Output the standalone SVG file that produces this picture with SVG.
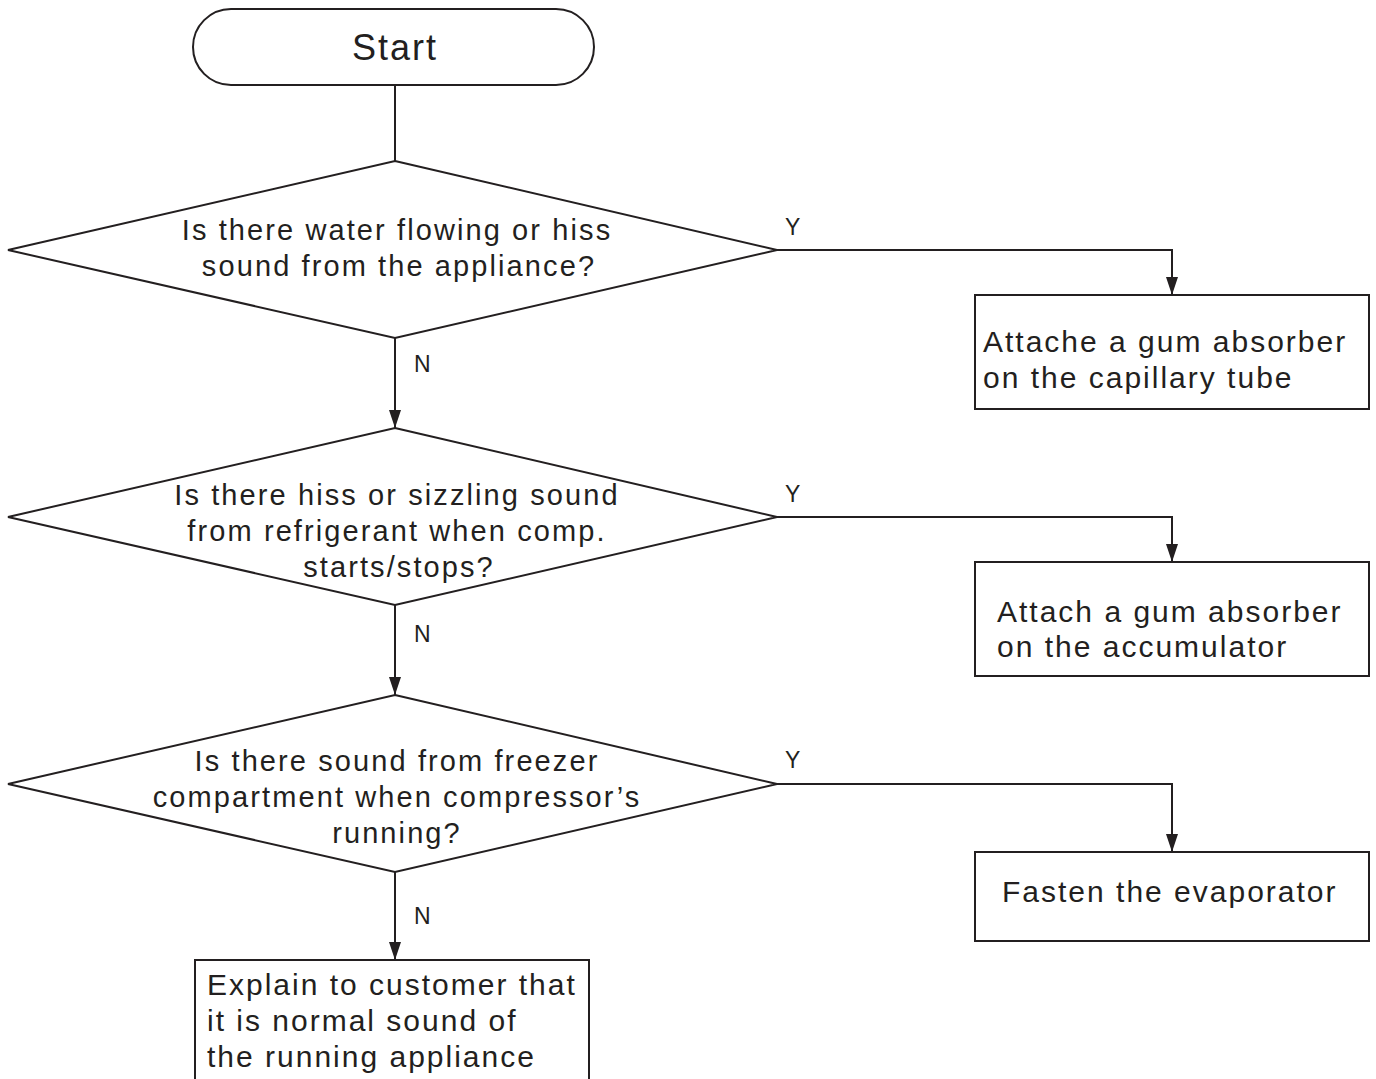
<svg xmlns="http://www.w3.org/2000/svg" width="1376" height="1079" viewBox="0 0 1376 1079">
<defs>
<style>
.shape{fill:#fff;stroke:#231f20;stroke-width:2}
.line{fill:none;stroke:#231f20;stroke-width:2}
.t{font-family:"Liberation Sans",Arial,sans-serif;fill:#231f20}
.q{font-size:29px;letter-spacing:2.1px;text-anchor:middle}
.b{font-size:30px;letter-spacing:2px}
.lbl{font-size:23px}
</style>
<marker id="arr" viewBox="0 0 18 12" refX="18" refY="6" markerWidth="18" markerHeight="12" markerUnits="userSpaceOnUse" orient="auto">
<path d="M0,0 L18,6 L0,12 Z" fill="#231f20"/>
</marker>
</defs>
<rect width="1376" height="1079" fill="#fff"/>
<g id="connectors">
<line class="line" x1="395" y1="85" x2="395" y2="161"/>
<line class="line" x1="395" y1="338" x2="395" y2="428" marker-end="url(#arr)"/>
<line class="line" x1="395" y1="605" x2="395" y2="695" marker-end="url(#arr)"/>
<line class="line" x1="395" y1="872" x2="395" y2="960" marker-end="url(#arr)"/>
<polyline class="line" points="777,250 1172,250 1172,295" marker-end="url(#arr)"/>
<polyline class="line" points="777,517 1172,517 1172,562" marker-end="url(#arr)"/>
<polyline class="line" points="777,784 1172,784 1172,852" marker-end="url(#arr)"/>
<text class="t lbl" x="785" y="235">Y</text>
<text class="t lbl" x="785" y="502">Y</text>
<text class="t lbl" x="785" y="768">Y</text>
<text class="t lbl" x="414" y="372">N</text>
<text class="t lbl" x="414" y="642">N</text>
<text class="t lbl" x="414" y="924">N</text>
</g>
<g id="start">
<rect class="shape" x="193" y="9" width="401" height="76" rx="38" ry="38"/>
<text class="t" x="395" y="60" font-size="36" letter-spacing="2" text-anchor="middle">Start</text>
</g>
<g id="q1">
<polygon class="shape" points="395,161 777,250 395,338 8,250"/>
<text class="t q" x="397" y="240">Is there water flowing or hiss</text>
<text class="t q" x="399" y="276">sound from the appliance?</text>
</g>
<g id="q2">
<polygon class="shape" points="395,428 777,517 395,605 8,517"/>
<text class="t q" x="397" y="505">Is there hiss or sizzling sound</text>
<text class="t q" x="397" y="541">from refrigerant when comp.</text>
<text class="t q" x="399" y="577">starts/stops?</text>
</g>
<g id="q3">
<polygon class="shape" points="395,695 777,784 395,872 8,784"/>
<text class="t q" x="397" y="771">Is there sound from freezer</text>
<text class="t q" x="397" y="807">compartment when compressor’s</text>
<text class="t q" x="397" y="843">running?</text>
</g>
<g id="a1">
<rect class="shape" x="975" y="295" width="394" height="114"/>
<text class="t b" x="983" y="352">Attache a gum absorber</text>
<text class="t b" x="983" y="388">on the capillary tube</text>
</g>
<g id="a2">
<rect class="shape" x="975" y="562" width="394" height="114"/>
<text class="t b" x="997" y="622">Attach a gum absorber</text>
<text class="t b" x="997" y="657">on the accumulator</text>
</g>
<g id="a3">
<rect class="shape" x="975" y="852" width="394" height="89"/>
<text class="t b" x="1002" y="902">Fasten the evaporator</text>
</g>
<g id="a4">
<rect class="shape" x="195" y="960" width="394" height="130"/>
<text class="t b" x="207" y="995">Explain to customer that</text>
<text class="t b" x="207" y="1031">it is normal sound of</text>
<text class="t b" x="207" y="1067">the running appliance</text>
</g>
</svg>
